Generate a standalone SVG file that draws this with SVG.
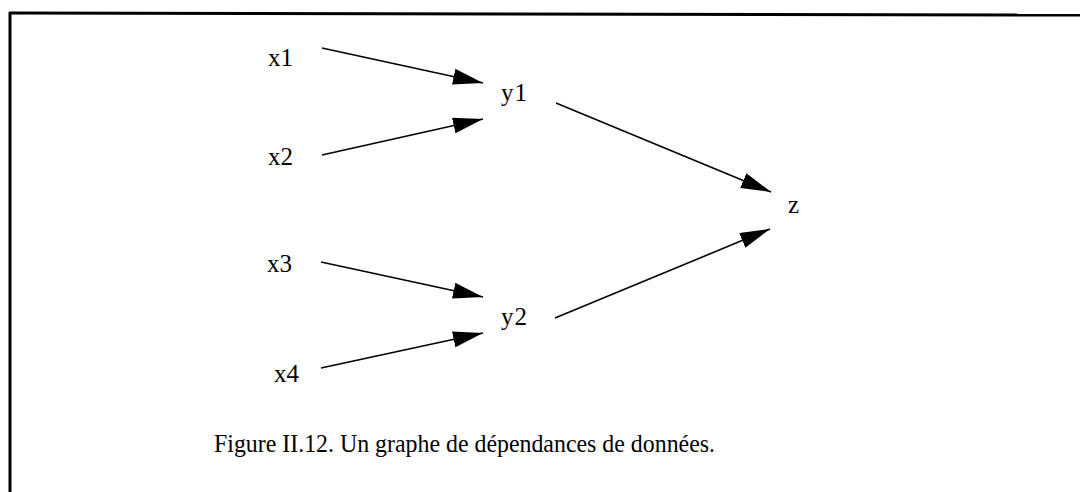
<svg xmlns="http://www.w3.org/2000/svg" width="1080" height="492" viewBox="0 0 1080 492">
<style>
.lbl{font-family:"Liberation Serif","Times New Roman",serif;font-size:25px;fill:#000}
.cap{font-family:"Liberation Serif","Times New Roman",serif;font-size:26px;fill:#000}
.edge{stroke:#000;stroke-width:1.6;fill:none;marker-end:url(#ah)}
</style>
<defs>
<marker id="ah" markerUnits="userSpaceOnUse" markerWidth="32" markerHeight="18" refX="30" refY="8" orient="auto">
<path d="M0,0 L30,8 L0,16 Z" fill="#000"/>
</marker>
</defs>
<rect width="1080" height="492" fill="#fff"/>
<g id="frame">
<line x1="9" y1="13" x2="1080" y2="15" stroke="#000" stroke-width="3"/>
<line x1="10" y1="12" x2="10" y2="492" stroke="#000" stroke-width="3"/>
</g>
<g id="connectors">
<line class="edge" x1="322" y1="48" x2="483" y2="83"/>
<line class="edge" x1="322" y1="155" x2="483" y2="119"/>
<line class="edge" x1="321" y1="262" x2="483" y2="297"/>
<line class="edge" x1="321" y1="368" x2="483" y2="333"/>
<line class="edge" x1="556" y1="103" x2="771" y2="192"/>
<line class="edge" x1="555" y1="318" x2="770" y2="229"/>
</g>
<g id="x1"><text class="lbl" x="268" y="66" textLength="25">x1</text></g>
<g id="x2"><text class="lbl" x="268" y="165" textLength="25">x2</text></g>
<g id="x3"><text class="lbl" x="267" y="272" textLength="25">x3</text></g>
<g id="x4"><text class="lbl" x="274" y="382" textLength="25">x4</text></g>
<g id="y1"><text class="lbl" x="501" y="101" textLength="26">y1</text></g>
<g id="y2"><text class="lbl" x="501" y="325" textLength="26">y2</text></g>
<g id="z"><text class="lbl" x="788" y="213">z</text></g>
<g id="caption"><text class="cap" x="214" y="452" textLength="501" lengthAdjust="spacingAndGlyphs">Figure II.12. Un graphe de dépendances de données.</text></g>
</svg>
